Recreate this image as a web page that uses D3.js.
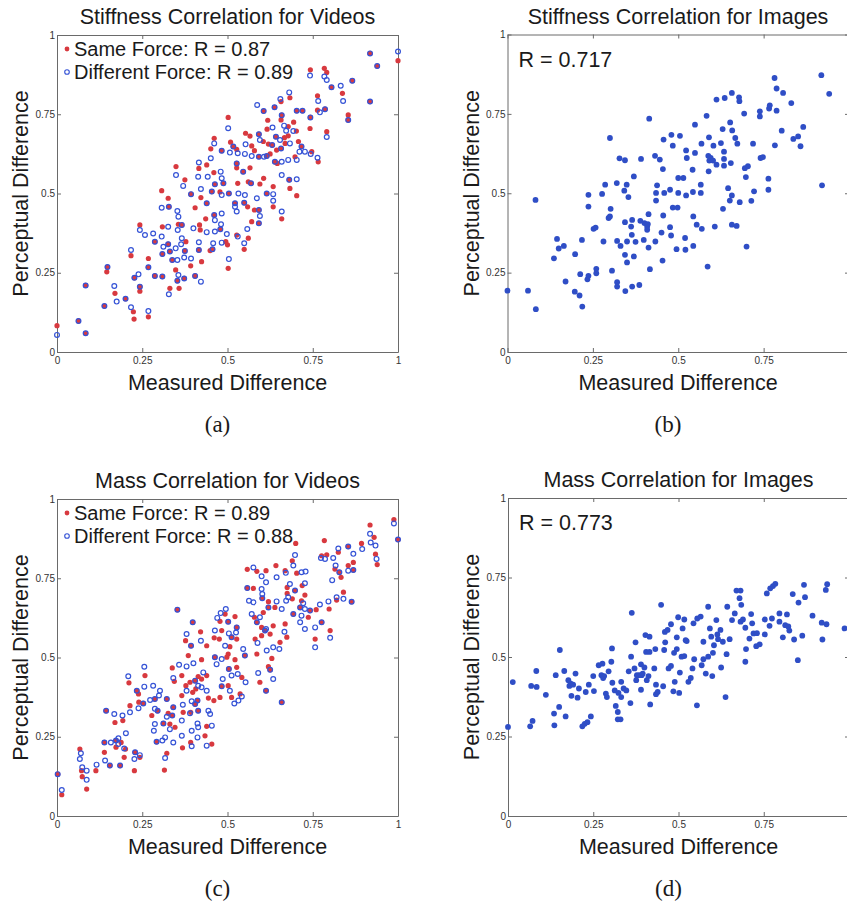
<!DOCTYPE html>
<html>
<head>
<meta charset="utf-8">
<script src="https://cdn.jsdelivr.net/npm/d3@7"></script>
<style>
  html, body { margin: 0; padding: 0; background: #fff; }
  svg { display: block; }
  .t { font-family: "Liberation Sans", Arial, Helvetica, sans-serif; fill: #1a1a1a; }
  .cap { font-family: "Liberation Serif", "Times New Roman", serif; fill: #1a1a1a; }
  .axis text { font-family: "Liberation Sans", Arial, sans-serif; font-size: 10px; fill: #333; }
  .axis path, .axis line { stroke: #6a6a6a; }
</style>
</head>
<body>
<svg id="chart" width="847" height="902"></svg>
<script>
// ---------------- data ----------------
const tickValues = [0, 0.25, 0.5, 0.75, 1];
const tickLabels = ["0", "0.25", "0.5", "0.75", "1"];
const titles = ["Stiffness Correlation for Videos", "Stiffness Correlation for Images",
                "Mass Correlation for Videos", "Mass Correlation for Images"];
const captions = ["(a)", "(b)", "(c)", "(d)"];
const xLabel = "Measured Difference";
const yLabel = "Perceptual Difference";
const legendStiffVid = ["Same Force: R = 0.87", "Different Force: R = 0.89"];
const legendMassVid = ["Same Force: R = 0.89", "Different Force: R = 0.88"];
const rStiffImg = "R = 0.717";
const rMassImg = "R = 0.773";

const stiffVidSame = [[1.0,0.919],[0.918,0.942],[0.939,0.902],[0.743,0.890],[0.784,0.895],[0.791,0.882],[0.805,0.835],[0.837,0.816],[0.866,0.856],[0.918,0.790],[0.854,0.748],[0.854,0.732],[0.764,0.808],[0.764,0.763],[0.786,0.766],[0.683,0.802],[0.657,0.790],[0.638,0.772],[0.703,0.761],[0.720,0.761],[0.743,0.740],[0.742,0.705],[0.606,0.760],[0.618,0.731],[0.616,0.703],[0.659,0.747],[0.657,0.732],[0.694,0.725],[0.678,0.711],[0.702,0.697],[0.791,0.695],[0.642,0.679],[0.667,0.676],[0.678,0.682],[0.592,0.687],[0.605,0.664],[0.553,0.690],[0.566,0.681],[0.502,0.740],[0.461,0.674],[0.451,0.641],[0.483,0.635],[0.509,0.662],[0.517,0.648],[0.527,0.639],[0.571,0.650],[0.579,0.635],[0.620,0.656],[0.631,0.653],[0.644,0.637],[0.657,0.642],[0.669,0.658],[0.708,0.664],[0.717,0.648],[0.592,0.616],[0.615,0.618],[0.625,0.625],[0.639,0.600],[0.646,0.595],[0.698,0.616],[0.747,0.632],[0.766,0.600],[0.349,0.585],[0.375,0.543],[0.416,0.579],[0.439,0.590],[0.460,0.566],[0.463,0.529],[0.488,0.532],[0.527,0.595],[0.527,0.581],[0.546,0.569],[0.566,0.581],[0.569,0.532],[0.561,0.537],[0.530,0.532],[0.606,0.548],[0.595,0.530],[0.681,0.543],[0.683,0.516],[0.703,0.493],[0.634,0.522],[0.615,0.500],[0.659,0.420],[0.634,0.458],[0.393,0.498],[0.422,0.487],[0.454,0.506],[0.478,0.505],[0.504,0.500],[0.405,0.455],[0.439,0.469],[0.522,0.469],[0.549,0.471],[0.559,0.458],[0.592,0.448],[0.579,0.448],[0.307,0.509],[0.326,0.485],[0.328,0.458],[0.461,0.432],[0.436,0.420],[0.418,0.401],[0.420,0.385],[0.479,0.387],[0.495,0.348],[0.500,0.338],[0.527,0.369],[0.549,0.324],[0.561,0.359],[0.592,0.406],[0.571,0.411],[0.243,0.401],[0.309,0.395],[0.356,0.403],[0.366,0.401],[0.287,0.348],[0.309,0.309],[0.331,0.317],[0.326,0.340],[0.378,0.348],[0.338,0.290],[0.375,0.319],[0.392,0.272],[0.416,0.322],[0.424,0.285],[0.449,0.320],[0.456,0.324],[0.502,0.264],[0.217,0.304],[0.148,0.268],[0.146,0.253],[0.268,0.295],[0.268,0.267],[0.227,0.234],[0.243,0.206],[0.243,0.192],[0.287,0.240],[0.309,0.238],[0.348,0.259],[0.353,0.225],[0.358,0.201],[0.373,0.232],[0.405,0.240],[0.331,0.201],[0.170,0.185],[0.084,0.210],[0.139,0.145],[0.201,0.168],[0.224,0.127],[0.226,0.104],[0.268,0.111],[0.063,0.098],[0.084,0.059],[0,0.083]];

const stiffVidDiff = [[1.0,0.948],[0.918,0.942],[0.939,0.902],[0.742,0.872],[0.784,0.869],[0.791,0.858],[0.805,0.835],[0.832,0.840],[0.839,0.792],[0.866,0.856],[0.918,0.790],[0.854,0.732],[0.766,0.792],[0.771,0.756],[0.786,0.766],[0.681,0.819],[0.655,0.798],[0.638,0.772],[0.703,0.761],[0.720,0.761],[0.743,0.740],[0.587,0.779],[0.606,0.760],[0.632,0.708],[0.659,0.747],[0.666,0.714],[0.672,0.698],[0.693,0.697],[0.791,0.678],[0.642,0.679],[0.654,0.669],[0.592,0.687],[0.595,0.669],[0.502,0.706],[0.461,0.658],[0.451,0.611],[0.483,0.635],[0.517,0.648],[0.553,0.655],[0.631,0.653],[0.657,0.642],[0.683,0.658],[0.717,0.648],[0.711,0.632],[0.727,0.632],[0.507,0.629],[0.530,0.627],[0.551,0.625],[0.571,0.618],[0.592,0.616],[0.607,0.616],[0.615,0.618],[0.639,0.600],[0.659,0.600],[0.678,0.606],[0.703,0.606],[0.744,0.625],[0.764,0.613],[0.349,0.558],[0.370,0.524],[0.416,0.598],[0.414,0.553],[0.442,0.553],[0.463,0.529],[0.480,0.569],[0.483,0.548],[0.488,0.532],[0.527,0.595],[0.546,0.569],[0.569,0.532],[0.532,0.500],[0.659,0.558],[0.681,0.543],[0.703,0.545],[0.615,0.500],[0.634,0.498],[0.634,0.477],[0.659,0.443],[0.393,0.498],[0.422,0.514],[0.454,0.506],[0.483,0.495],[0.504,0.500],[0.439,0.469],[0.522,0.469],[0.527,0.443],[0.522,0.458],[0.549,0.471],[0.551,0.495],[0.586,0.485],[0.592,0.448],[0.307,0.455],[0.328,0.458],[0.353,0.445],[0.356,0.427],[0.461,0.432],[0.463,0.416],[0.483,0.437],[0.481,0.403],[0.400,0.390],[0.479,0.387],[0.463,0.380],[0.439,0.378],[0.498,0.372],[0.458,0.343],[0.530,0.364],[0.549,0.343],[0.592,0.406],[0.595,0.429],[0.558,0.388],[0.243,0.385],[0.258,0.369],[0.282,0.374],[0.326,0.395],[0.307,0.364],[0.366,0.401],[0.354,0.385],[0.287,0.348],[0.312,0.332],[0.309,0.309],[0.331,0.317],[0.326,0.340],[0.366,0.359],[0.364,0.340],[0.348,0.327],[0.338,0.290],[0.353,0.290],[0.373,0.298],[0.375,0.319],[0.393,0.295],[0.416,0.346],[0.416,0.322],[0.456,0.324],[0.483,0.345],[0.504,0.293],[0.217,0.322],[0.148,0.268],[0.268,0.267],[0.239,0.245],[0.227,0.234],[0.243,0.206],[0.287,0.240],[0.309,0.238],[0.356,0.243],[0.353,0.225],[0.373,0.232],[0.405,0.240],[0.422,0.222],[0.328,0.182],[0.168,0.208],[0.175,0.159],[0.084,0.210],[0.139,0.145],[0.201,0.168],[0.217,0.141],[0.268,0.129],[0.063,0.098],[0.084,0.059],[0,0.054]];

const stiffImg = [[0,0.193],[0.060,0.193],[0.082,0.479],[0.083,0.135],[0.136,0.295],[0.145,0.356],[0.150,0.326],[0.165,0.334],[0.170,0.222],[0.197,0.190],[0.198,0.308],[0.211,0.178],[0.219,0.143],[0.218,0.353],[0.213,0.245],[0.234,0.229],[0.237,0.240],[0.237,0.495],[0.237,0.458],[0.260,0.248],[0.260,0.262],[0.252,0.388],[0.258,0.392],[0.277,0.498],[0.281,0.348],[0.286,0.527],[0.300,0.674],[0.296,0.422],[0.302,0.451],[0.300,0.427],[0.306,0.256],[0.320,0.532],[0.321,0.350],[0.321,0.220],[0.321,0.206],[0.331,0.334],[0.328,0.610],[0.344,0.604],[0.342,0.508],[0.344,0.409],[0.344,0.306],[0.345,0.192],[0.349,0.527],[0.354,0.488],[0.350,0.348],[0.350,0.282],[0.365,0.416],[0.362,0.395],[0.364,0.369],[0.370,0.301],[0.365,0.206],[0.370,0.553],[0.375,0.347],[0.386,0.211],[0.389,0.413],[0.391,0.608],[0.399,0.353],[0.401,0.406],[0.409,0.395],[0.409,0.385],[0.413,0.329],[0.415,0.735],[0.417,0.261],[0.413,0.434],[0.411,0.403],[0.432,0.618],[0.433,0.348],[0.435,0.501],[0.435,0.477],[0.438,0.525],[0.446,0.606],[0.451,0.376],[0.455,0.576],[0.456,0.430],[0.454,0.288],[0.457,0.669],[0.459,0.501],[0.476,0.511],[0.476,0.393],[0.479,0.367],[0.480,0.684],[0.484,0.650],[0.484,0.455],[0.498,0.455],[0.495,0.324],[0.500,0.548],[0.515,0.548],[0.500,0.501],[0.505,0.681],[0.520,0.359],[0.523,0.493],[0.523,0.635],[0.525,0.611],[0.521,0.322],[0.542,0.574],[0.543,0.504],[0.544,0.427],[0.544,0.334],[0.549,0.627],[0.549,0.716],[0.554,0.401],[0.566,0.527],[0.566,0.501],[0.568,0.656],[0.569,0.388],[0.583,0.744],[0.586,0.269],[0.590,0.676],[0.588,0.618],[0.591,0.603],[0.589,0.569],[0.595,0.611],[0.602,0.603],[0.603,0.650],[0.607,0.395],[0.612,0.590],[0.612,0.795],[0.625,0.658],[0.630,0.702],[0.634,0.608],[0.634,0.587],[0.634,0.631],[0.631,0.451],[0.636,0.800],[0.646,0.516],[0.651,0.477],[0.652,0.723],[0.654,0.595],[0.657,0.493],[0.657,0.816],[0.658,0.698],[0.657,0.401],[0.667,0.674],[0.671,0.397],[0.673,0.656],[0.678,0.802],[0.679,0.790],[0.680,0.472],[0.693,0.751],[0.695,0.579],[0.698,0.551],[0.700,0.332],[0.704,0.585],[0.714,0.476],[0.719,0.656],[0.722,0.506],[0.739,0.758],[0.739,0.742],[0.741,0.611],[0.748,0.614],[0.764,0.546],[0.764,0.511],[0.766,0.767],[0.768,0.777],[0.782,0.863],[0.788,0.830],[0.783,0.651],[0.788,0.760],[0.803,0.697],[0.807,0.816],[0.831,0.784],[0.837,0.671],[0.851,0.679],[0.858,0.648],[0.866,0.709],[0.919,0.872],[0.921,0.525],[0.942,0.813]];

const massVidSame = [[0.988,0.935],[1.0,0.872],[0.918,0.918],[0.930,0.879],[0.934,0.826],[0.939,0.793],[0.893,0.860],[0.854,0.850],[0.869,0.800],[0.825,0.832],[0.815,0.779],[0.828,0.769],[0.833,0.753],[0.854,0.790],[0.869,0.776],[0.784,0.869],[0.776,0.821],[0.791,0.824],[0.700,0.860],[0.690,0.805],[0.703,0.766],[0.719,0.727],[0.669,0.774],[0.675,0.721],[0.698,0.711],[0.675,0.702],[0.690,0.685],[0.642,0.790],[0.613,0.774],[0.586,0.772],[0.558,0.778],[0.558,0.719],[0.576,0.718],[0.602,0.687],[0.620,0.676],[0.620,0.658],[0.639,0.658],[0.717,0.679],[0.727,0.697],[0.713,0.658],[0.742,0.648],[0.693,0.637],[0.737,0.627],[0.760,0.651],[0.798,0.653],[0.820,0.681],[0.840,0.706],[0.864,0.676],[0.776,0.611],[0.801,0.585],[0.757,0.558],[0.669,0.606],[0.674,0.564],[0.654,0.548],[0.630,0.497],[0.586,0.511],[0.581,0.558],[0.600,0.569],[0.610,0.585],[0.600,0.595],[0.586,0.611],[0.579,0.627],[0.605,0.642],[0.634,0.600],[0.625,0.574],[0.493,0.637],[0.478,0.614],[0.502,0.613],[0.522,0.629],[0.527,0.595],[0.527,0.558],[0.512,0.564],[0.483,0.585],[0.461,0.562],[0.476,0.558],[0.507,0.534],[0.502,0.511],[0.498,0.501],[0.463,0.501],[0.551,0.506],[0.527,0.469],[0.522,0.493],[0.504,0.464],[0.542,0.437],[0.353,0.651],[0.398,0.611],[0.377,0.553],[0.393,0.537],[0.421,0.581],[0.439,0.537],[0.424,0.493],[0.385,0.506],[0.338,0.467],[0.344,0.425],[0.366,0.443],[0.378,0.411],[0.390,0.422],[0.405,0.427],[0.414,0.440],[0.424,0.432],[0.439,0.443],[0.407,0.401],[0.398,0.390],[0.366,0.380],[0.412,0.364],[0.444,0.372],[0.483,0.409],[0.502,0.411],[0.512,0.374],[0.537,0.385],[0.478,0.374],[0.460,0.364],[0.595,0.422],[0.620,0.471],[0.625,0.461],[0.613,0.395],[0.659,0.359],[0.258,0.443],[0.211,0.420],[0.234,0.395],[0.240,0.359],[0.253,0.355],[0.287,0.369],[0.322,0.369],[0.295,0.332],[0.278,0.317],[0.292,0.234],[0.331,0.290],[0.312,0.292],[0.338,0.317],[0.341,0.343],[0.326,0.324],[0.346,0.280],[0.368,0.215],[0.392,0.232],[0.434,0.253],[0.454,0.227],[0.439,0.283],[0.414,0.332],[0.392,0.327],[0.405,0.353],[0.370,0.327],[0.144,0.332],[0.170,0.295],[0.193,0.301],[0.214,0.348],[0.239,0.385],[0.139,0.232],[0.173,0.238],[0.173,0.217],[0.188,0.232],[0.139,0.201],[0.155,0.159],[0.185,0.159],[0.197,0.185],[0.201,0.211],[0.229,0.201],[0.227,0.143],[0.243,0.185],[0.114,0.143],[0.315,0.145],[0.322,0.198],[0.067,0.211],[0.072,0.143],[0.074,0.124],[0.087,0.085],[0.002,0.132],[0.014,0.067]];

const massVidDiff = [[0.988,0.923],[1.0,0.872],[0.918,0.890],[0.920,0.863],[0.934,0.853],[0.937,0.811],[0.895,0.842],[0.854,0.850],[0.869,0.827],[0.825,0.844],[0.810,0.814],[0.817,0.790],[0.828,0.769],[0.807,0.744],[0.869,0.776],[0.854,0.774],[0.774,0.814],[0.786,0.811],[0.698,0.823],[0.693,0.790],[0.717,0.769],[0.729,0.771],[0.727,0.734],[0.671,0.767],[0.683,0.732],[0.698,0.711],[0.678,0.690],[0.672,0.679],[0.644,0.753],[0.600,0.756],[0.613,0.737],[0.576,0.784],[0.558,0.719],[0.600,0.716],[0.602,0.700],[0.602,0.687],[0.576,0.674],[0.563,0.679],[0.644,0.677],[0.620,0.658],[0.659,0.653],[0.722,0.671],[0.713,0.658],[0.727,0.653],[0.742,0.648],[0.693,0.637],[0.717,0.632],[0.713,0.611],[0.771,0.667],[0.796,0.677],[0.820,0.690],[0.840,0.685],[0.864,0.676],[0.727,0.590],[0.757,0.595],[0.776,0.611],[0.801,0.562],[0.757,0.532],[0.667,0.581],[0.652,0.527],[0.634,0.532],[0.615,0.522],[0.588,0.546],[0.610,0.585],[0.586,0.611],[0.571,0.637],[0.595,0.627],[0.613,0.590],[0.495,0.653],[0.480,0.640],[0.470,0.625],[0.502,0.613],[0.527,0.595],[0.525,0.579],[0.512,0.564],[0.504,0.576],[0.463,0.585],[0.493,0.537],[0.483,0.495],[0.463,0.501],[0.468,0.479],[0.546,0.527],[0.551,0.506],[0.504,0.464],[0.530,0.448],[0.553,0.422],[0.512,0.443],[0.353,0.651],[0.398,0.611],[0.380,0.574],[0.393,0.537],[0.422,0.553],[0.400,0.482],[0.380,0.472],[0.358,0.477],[0.341,0.435],[0.405,0.427],[0.429,0.453],[0.414,0.411],[0.424,0.406],[0.380,0.395],[0.369,0.351],[0.395,0.362],[0.412,0.364],[0.439,0.395],[0.486,0.432],[0.483,0.409],[0.507,0.395],[0.520,0.355],[0.532,0.364],[0.542,0.377],[0.590,0.451],[0.625,0.461],[0.634,0.432],[0.613,0.395],[0.659,0.359],[0.256,0.471],[0.209,0.441],[0.256,0.408],[0.234,0.395],[0.282,0.411],[0.253,0.355],[0.239,0.340],[0.273,0.366],[0.287,0.369],[0.302,0.395],[0.299,0.380],[0.322,0.369],[0.287,0.338],[0.295,0.332],[0.287,0.290],[0.284,0.269],[0.292,0.234],[0.309,0.238],[0.317,0.248],[0.312,0.292],[0.322,0.313],[0.338,0.317],[0.331,0.274],[0.341,0.343],[0.341,0.232],[0.366,0.301],[0.366,0.253],[0.395,0.220],[0.395,0.269],[0.412,0.292],[0.414,0.280],[0.412,0.248],[0.439,0.222],[0.444,0.332],[0.449,0.322],[0.454,0.285],[0.414,0.332],[0.390,0.324],[0.405,0.353],[0.144,0.332],[0.168,0.322],[0.192,0.317],[0.214,0.327],[0.139,0.232],[0.158,0.232],[0.173,0.238],[0.180,0.245],[0.180,0.227],[0.202,0.261],[0.141,0.175],[0.155,0.159],[0.185,0.159],[0.197,0.213],[0.229,0.201],[0.243,0.192],[0.227,0.180],[0.116,0.162],[0.317,0.183],[0.070,0.198],[0.067,0.180],[0.074,0.154],[0.087,0.143],[0.087,0.114],[0.002,0.132],[0.014,0.082]];

const massImg = [[0,0.280],[0.014,0.421],[0.065,0.282],[0.072,0.299],[0.068,0.409],[0.084,0.406],[0.083,0.456],[0.111,0.381],[0.135,0.322],[0.136,0.285],[0.140,0.443],[0.150,0.343],[0.152,0.522],[0.165,0.456],[0.169,0.313],[0.177,0.427],[0.180,0.409],[0.184,0.416],[0.186,0.378],[0.191,0.413],[0.198,0.448],[0.204,0.372],[0.208,0.401],[0.218,0.282],[0.225,0.290],[0.233,0.295],[0.228,0.390],[0.237,0.413],[0.243,0.313],[0.250,0.440],[0.252,0.393],[0.266,0.474],[0.277,0.479],[0.274,0.443],[0.279,0.434],[0.282,0.440],[0.287,0.385],[0.290,0.374],[0.295,0.455],[0.305,0.527],[0.303,0.485],[0.306,0.419],[0.313,0.395],[0.316,0.346],[0.322,0.327],[0.322,0.304],[0.330,0.304],[0.324,0.387],[0.332,0.422],[0.332,0.374],[0.339,0.401],[0.347,0.395],[0.354,0.455],[0.359,0.355],[0.361,0.501],[0.363,0.639],[0.371,0.464],[0.374,0.546],[0.376,0.427],[0.378,0.443],[0.385,0.443],[0.390,0.477],[0.390,0.397],[0.392,0.443],[0.395,0.448],[0.400,0.467],[0.403,0.569],[0.405,0.516],[0.407,0.427],[0.415,0.564],[0.417,0.351],[0.415,0.516],[0.412,0.440],[0.429,0.464],[0.432,0.525],[0.434,0.413],[0.434,0.383],[0.439,0.390],[0.449,0.664],[0.455,0.408],[0.458,0.522],[0.461,0.546],[0.460,0.579],[0.468,0.585],[0.471,0.464],[0.478,0.472],[0.478,0.603],[0.485,0.392],[0.489,0.422],[0.487,0.513],[0.495,0.525],[0.495,0.562],[0.499,0.625],[0.502,0.387],[0.504,0.451],[0.509,0.501],[0.512,0.590],[0.517,0.618],[0.517,0.503],[0.524,0.550],[0.521,0.553],[0.529,0.422],[0.536,0.434],[0.541,0.464],[0.546,0.493],[0.544,0.606],[0.554,0.348],[0.555,0.621],[0.565,0.627],[0.568,0.474],[0.573,0.548],[0.573,0.493],[0.580,0.448],[0.587,0.658],[0.587,0.501],[0.592,0.590],[0.596,0.564],[0.599,0.440],[0.601,0.513],[0.604,0.537],[0.611,0.616],[0.614,0.571],[0.616,0.556],[0.623,0.585],[0.625,0.467],[0.630,0.548],[0.638,0.374],[0.641,0.509],[0.643,0.658],[0.650,0.556],[0.657,0.616],[0.665,0.637],[0.670,0.709],[0.682,0.709],[0.679,0.685],[0.682,0.611],[0.684,0.664],[0.689,0.618],[0.696,0.485],[0.696,0.592],[0.698,0.525],[0.708,0.558],[0.713,0.635],[0.716,0.606],[0.720,0.574],[0.728,0.534],[0.730,0.575],[0.738,0.540],[0.753,0.618],[0.753,0.571],[0.759,0.700],[0.769,0.716],[0.777,0.723],[0.784,0.730],[0.767,0.598],[0.774,0.621],[0.796,0.637],[0.796,0.611],[0.806,0.562],[0.813,0.600],[0.818,0.634],[0.822,0.596],[0.825,0.583],[0.835,0.698],[0.839,0.555],[0.850,0.490],[0.852,0.671],[0.863,0.567],[0.868,0.727],[0.871,0.688],[0.893,0.630],[0.920,0.608],[0.922,0.555],[0.932,0.711],[0.936,0.729],[0.934,0.603],[0.987,0.590]];

// ---------------- drawing ----------------
const RED = "#d8393f", BLUE_RING = "#3553d6", BLUE_DOT = "#2f4ec6";
const W = 847;
const svg = d3.select("#chart");

const panelBoxes = [
  {left: 57,  right: 398, top: 35,  bottom: 352},
  {left: 507.5, right: 849, top: 34.5, bottom: 352},
  {left: 57,  right: 398, top: 499, bottom: 816},
  {left: 508, right: 849, top: 498, bottom: 816}
];

function drawPanel(i, opts) {
  const b = panelBoxes[i];
  const x = d3.scaleLinear().domain([0, 1]).range([b.left, b.right]);
  const y = d3.scaleLinear().domain([0, 1]).range([b.bottom, b.top]);
  const g = svg.append("g");
  const fmt = (d) => tickLabels[tickValues.indexOf(d)];
  // x tick labels only where they fall inside the page (the reference is cropped at the right)
  const xTicksShown = tickValues.filter(v => x(v) + 4 <= W);
  const xfmt = (d) => xTicksShown.includes(d) ? fmt(d) : "";

  // box with inward ticks on all four sides
  const ax = g.append("g").attr("class", "axis").attr("transform", `translate(0,${b.bottom})`)
    .call(d3.axisBottom(x).tickValues(tickValues).tickFormat(xfmt).tickSizeInner(-4).tickSizeOuter(0).tickPadding(5));
  const ay = g.append("g").attr("class", "axis").attr("transform", `translate(${b.left},0)`)
    .call(d3.axisLeft(y).tickValues(tickValues).tickFormat(fmt).tickSizeInner(-4).tickSizeOuter(0).tickPadding(2));
  g.append("g").attr("class", "axis").attr("transform", `translate(0,${b.top})`)
    .call(d3.axisTop(x).tickValues(tickValues).tickFormat("").tickSizeInner(-4).tickSizeOuter(0));
  g.append("g").attr("class", "axis").attr("transform", `translate(${b.right},0)`)
    .call(d3.axisRight(y).tickValues(tickValues).tickFormat("").tickSizeInner(-4).tickSizeOuter(0));
  ax.selectAll(".tick text").attr("y", 5).attr("dy", "0.71em");
  ay.selectAll(".tick text").attr("dy", "0.32em");

  // marks
  if (opts.same) {
    g.append("g").selectAll("circle").data(opts.same).join("circle")
      .attr("cx", d => x(d[0])).attr("cy", d => y(d[1])).attr("r", 2.6)
      .attr("fill", RED);
    g.append("g").selectAll("circle").data(opts.diff).join("circle")
      .attr("cx", d => x(d[0])).attr("cy", d => y(d[1])).attr("r", 2.4)
      .attr("fill", "none").attr("stroke", BLUE_RING).attr("stroke-width", 1.2);
    // legend
    const lg = g.append("g").attr("class", "t").attr("font-size", 20);
    lg.append("circle").attr("cx", b.left + 10).attr("cy", b.top + 14).attr("r", 2.4).attr("fill", RED);
    lg.append("circle").attr("cx", b.left + 10).attr("cy", b.top + 37).attr("r", 2.3)
      .attr("fill", "none").attr("stroke", BLUE_RING).attr("stroke-width", 1.1);
    lg.append("text").attr("x", b.left + 17).attr("y", b.top + 21).text(opts.legend[0]);
    lg.append("text").attr("x", b.left + 17).attr("y", b.top + 44).text(opts.legend[1]);
  } else {
    g.append("g").selectAll("circle").data(opts.pts).join("circle")
      .attr("cx", d => x(d[0])).attr("cy", d => y(d[1])).attr("r", 2.9)
      .attr("fill", BLUE_DOT);
    g.append("text").attr("class", "t").attr("font-size", 21.5)
      .attr("x", b.left + 11).attr("y", b.top + 32).text(opts.rtext);
  }

  // titles and labels
  const cx = (b.left + Math.min(b.right, b.left + 341)) / 2;
  g.append("text").attr("class", "t").attr("font-size", 21.5).attr("text-anchor", "middle")
    .attr("x", cx).attr("y", b.top - 11).text(titles[i]);
  g.append("text").attr("class", "t").attr("font-size", 21.5).attr("text-anchor", "middle")
    .attr("x", cx).attr("y", b.bottom + 38).text(xLabel);
  g.append("text").attr("class", "t").attr("font-size", 21.5).attr("text-anchor", "middle")
    .attr("transform", `translate(${b.left - 29},${(b.top + b.bottom) / 2}) rotate(-90)`).text(yLabel);
  g.append("text").attr("class", "cap").attr("font-size", 23).attr("text-anchor", "middle")
    .attr("x", cx - 10).attr("y", b.bottom + 80).text(captions[i]);
}

drawPanel(0, {same: stiffVidSame, diff: stiffVidDiff, legend: legendStiffVid});
drawPanel(1, {pts: stiffImg, rtext: rStiffImg});
drawPanel(2, {same: massVidSame, diff: massVidDiff, legend: legendMassVid});
drawPanel(3, {pts: massImg, rtext: rMassImg});
</script>
</body>
</html>
